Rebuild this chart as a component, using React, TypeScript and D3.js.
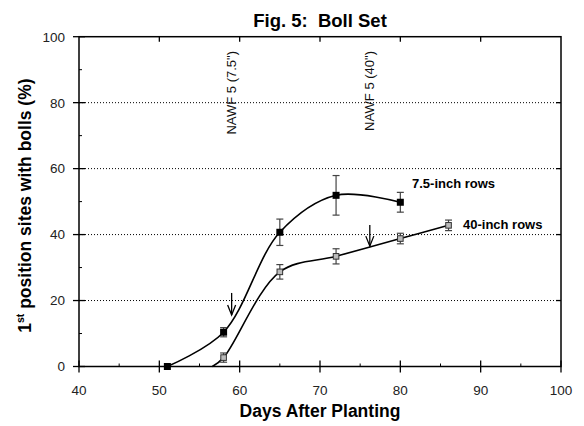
import React from 'react';
import * as d3 from 'd3';

// 7.5-inch rows
const days75 = [51, 58, 65, 72, 80];
const pct75 = [0, 10.4, 40.7, 51.9, 49.8];
const err75 = [0, 1.4, 4.0, 6.0, 3.0];
// 40-inch rows
const days40 = [58, 65, 72, 80, 86];
const pct40 = [2.7, 28.7, 33.4, 38.8, 42.8];
const err40 = [1.4, 2.2, 2.3, 1.6, 1.6];
const curveStart40 = 56.6;

const xTicks = [40, 50, 60, 70, 80, 90, 100];
const xMinor = [45, 55, 65, 75, 85, 95];
const yTicks = [0, 20, 40, 60, 80, 100];
const yMinor = [10, 30, 50, 70, 90];
const gridLines = [20, 40, 60, 80];

const nawfDays = [59.0, 76.2];
const nawfLabels = ['NAWF 5 (7.5")', 'NAWF 5 (40")'];
const arrowTop = [22.3, 42.9];
const arrowTip = [15.6, 36.5];

const W = 584, H = 426;
const FONT = 'Arial, "Liberation Sans", sans-serif';

export default function App() {
  const x = d3.scaleLinear().domain([40, 100]).range([79, 561]);
  const y = d3.scaleLinear().domain([0, 100]).range([366.5, 36.7]);
  const [x0, x1] = x.range();
  const [y0, y1] = y.range();

  const line = d3.line<[number, number]>()
    .x(d => x(d[0])).y(d => y(d[1]))
    .curve(d3.curveCatmullRom.alpha(0.5));

  const pts75: [number, number][] = days75.map((d, i) => [d, pct75[i]]);
  const pts40: [number, number][] = [[curveStart40, 0], ...days40.map((d, i) => [d, pct40[i]] as [number, number])];

  const errBar = (d: number, v: number, e: number, key: string) => {
    if (e <= 0) return null;
    const cx = x(d), ya = y(v + e), yb = y(v - e);
    return (
      <g key={key} stroke="#444" strokeWidth={1.2}>
        <line x1={cx} x2={cx} y1={ya} y2={yb} />
        <line x1={cx - 3.5} x2={cx + 3.5} y1={ya} y2={ya} />
        <line x1={cx - 3.5} x2={cx + 3.5} y1={yb} y2={yb} />
      </g>
    );
  };

  return (
    <svg width={W} height={H} style={{ position: 'absolute', left: 0, top: 0, background: '#fff' }} fontFamily={FONT}>
      <rect x={0} y={0} width={W} height={H} fill="#fff" />
      {/* title */}
      <text x={(x0 + x1) / 2} y={27} textAnchor="middle" fontSize={18.5} fontWeight="bold">{'Fig. 5:\u00a0 Boll Set'}</text>

      {/* grid */}
      {gridLines.map(g => (
        <line key={'g' + g} x1={x0} x2={x1} y1={y(g)} y2={y(g)} stroke="#000" strokeWidth={1} strokeDasharray="1,2" />
      ))}

      {/* frame */}
      <rect x={x0} y={y1} width={x1 - x0} height={y0 - y1} fill="none" stroke="#000" strokeWidth={1.5} />

      {/* y axis ticks */}
      {yTicks.map(t => (
        <g key={'yt' + t}>
          <line x1={x0 - 6} x2={x0 + 6} y1={y(t)} y2={y(t)} stroke="#000" strokeWidth={1.3} />
          {t > 0 && t < 100 && <line x1={x1 - 5} x2={x1} y1={y(t)} y2={y(t)} stroke="#000" strokeWidth={1.3} />}
          <text x={x0 - 14} y={y(t)} dy="0.36em" textAnchor="end" fontSize={13.5} fill="#222">{t}</text>
        </g>
      ))}
      {yMinor.map(t => (
        <line key={'ym' + t} x1={x0} x2={x0 + 3} y1={y(t)} y2={y(t)} stroke="#000" strokeWidth={1} />
      ))}

      {/* x axis ticks */}
      {xTicks.map(t => (
        <g key={'xt' + t}>
          <line x1={x(t)} x2={x(t)} y1={y0 - 6} y2={y0 + 6} stroke="#000" strokeWidth={1.3} />
          {t > 40 && t < 100 && <line x1={x(t)} x2={x(t)} y1={y1} y2={y1 + 5} stroke="#000" strokeWidth={1.3} />}
          <text x={x(t)} y={y0 + 28} textAnchor="middle" fontSize={13.5} fill="#222">{t}</text>
        </g>
      ))}
      {xMinor.map(t => (
        <line key={'xm' + t} x1={x(t)} x2={x(t)} y1={y0} y2={y0 - 3} stroke="#000" strokeWidth={1} />
      ))}

      {/* axis labels */}
      <text x={(x0 + x1) / 2} y={417} textAnchor="middle" fontSize={17.5} fontWeight="bold">Days After Planting</text>
      <text transform={`translate(31,${(y0 + y1) / 2 + 4}) rotate(-90)`} textAnchor="middle" fontSize={17.5} fontWeight="bold">
        1<tspan fontSize={10.5} dy={-7}>st</tspan><tspan dy={7}> position sites with bolls (%)</tspan>
      </text>

      {/* NAWF labels */}
      {nawfDays.map((d, i) => (
        <text key={'n' + i} transform={`translate(${x(d) + 4.5},${51}) rotate(-90)`} textAnchor="end" fontSize={13} fill="#111">{nawfLabels[i]}</text>
      ))}

      {/* arrows */}
      {nawfDays.map((d, i) => {
        const ax = x(d), ya = y(arrowTop[i]), yb = y(arrowTip[i]);
        return (
          <g key={'a' + i} stroke="#000" strokeWidth={1.3} fill="none">
            <line x1={ax} x2={ax} y1={ya} y2={yb} />
            <polyline points={`${ax - 4},${yb - 10} ${ax},${yb} ${ax + 4},${yb - 10}`} />
          </g>
        );
      })}

      {/* curves */}
      <path d={line(pts75) || ''} fill="none" stroke="#000" strokeWidth={1.6} />
      <path d={line(pts40) || ''} fill="none" stroke="#000" strokeWidth={1.6} />

      {/* error bars */}
      {days75.map((d, i) => errBar(d, pct75[i], err75[i], 'e75' + i))}
      {days40.map((d, i) => errBar(d, pct40[i], err40[i], 'e40' + i))}

      {/* markers */}
      {days75.map((d, i) => (
        <rect key={'m75' + i} x={x(d) - 3.5} y={y(pct75[i]) - 3.5} width={7} height={7} fill="#000" />
      ))}
      {days40.map((d, i) => (
        <rect key={'m40' + i} x={x(d) - 2.8} y={y(pct40[i]) - 2.8} width={5.6} height={5.6} fill="#bbb" stroke="#333" strokeWidth={1} />
      ))}

      {/* series labels */}
      <text x={412} y={188} fontSize={13} fontWeight="bold">7.5-inch rows</text>
      <text x={463} y={229} fontSize={13} fontWeight="bold">40-inch rows</text>
    </svg>
  );
}
